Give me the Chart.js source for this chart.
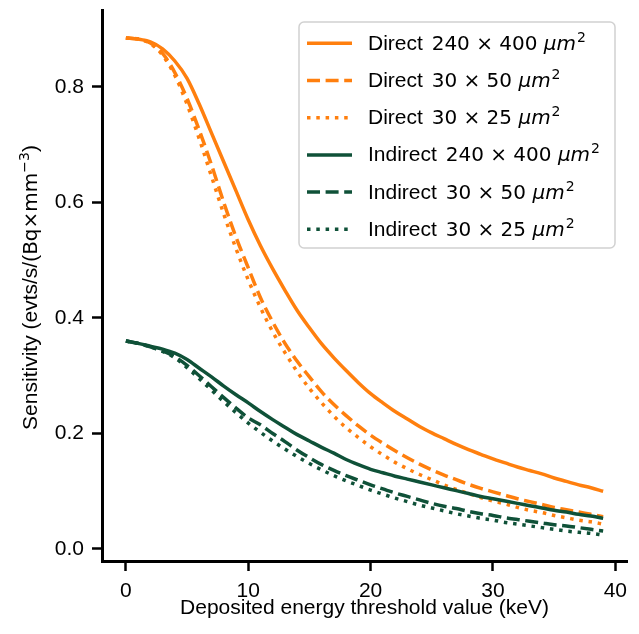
<!DOCTYPE html>
<html>
<head>
<meta charset="utf-8">
<script src="https://cdn.jsdelivr.net/npm/chart.js@4/dist/chart.umd.min.js"></script>
<style>
  html, body { margin: 0; padding: 0; background: #fff; }
  #wrap { width: 639px; height: 634px; }
</style>
</head>
<body>
<div id="wrap"><canvas id="c" width="639" height="634"></canvas></div>
<script>
// ---- data ----
const energyKeV = [0,1,2,3,4,5,6,7,8,9,10,11,12,13,14,15,16,17,18,19,20,21,22,23,24,25,26,27,28,29,30,31,32,33,34,35,36,37,38,39];

const directLarge = [0.885,0.883,0.878,0.866,0.845,0.815,0.770,0.720,0.670,0.620,0.570,0.525,0.485,0.448,0.413,0.383,0.355,0.331,0.309,0.288,0.269,0.253,0.238,0.225,0.212,0.201,0.191,0.181,0.172,0.164,0.156,0.149,0.142,0.136,0.130,0.123,0.117,0.111,0.106,0.100];
const directMid   = [0.885,0.883,0.876,0.858,0.825,0.780,0.725,0.665,0.600,0.540,0.487,0.435,0.393,0.356,0.325,0.298,0.272,0.250,0.231,0.213,0.197,0.183,0.170,0.158,0.147,0.137,0.128,0.120,0.112,0.105,0.099,0.093,0.087,0.082,0.077,0.072,0.068,0.064,0.060,0.056];
const directSmall = [0.885,0.883,0.875,0.855,0.820,0.770,0.710,0.645,0.580,0.520,0.466,0.418,0.376,0.340,0.307,0.278,0.253,0.230,0.210,0.193,0.177,0.163,0.150,0.139,0.129,0.120,0.111,0.103,0.096,0.089,0.083,0.078,0.072,0.067,0.063,0.058,0.054,0.050,0.047,0.043];

const indirectLarge = [0.360,0.356,0.351,0.346,0.339,0.328,0.313,0.298,0.282,0.267,0.253,0.238,0.224,0.211,0.198,0.187,0.176,0.166,0.155,0.146,0.138,0.132,0.126,0.121,0.116,0.111,0.106,0.101,0.096,0.091,0.087,0.083,0.079,0.075,0.071,0.067,0.064,0.060,0.057,0.053];
const indirectMid   = [0.360,0.356,0.350,0.343,0.333,0.318,0.300,0.281,0.262,0.244,0.227,0.215,0.200,0.186,0.171,0.158,0.146,0.136,0.127,0.119,0.111,0.104,0.097,0.091,0.085,0.079,0.074,0.070,0.065,0.061,0.058,0.054,0.051,0.048,0.045,0.042,0.040,0.037,0.034,0.031];
const indirectSmall = [0.360,0.356,0.350,0.342,0.331,0.314,0.295,0.275,0.255,0.236,0.218,0.202,0.187,0.173,0.160,0.148,0.137,0.127,0.118,0.110,0.102,0.095,0.088,0.082,0.076,0.071,0.066,0.061,0.057,0.053,0.050,0.046,0.043,0.040,0.037,0.034,0.031,0.029,0.027,0.024];

const readoutKinds = ['Direct','Direct','Direct','Indirect','Indirect','Indirect'];
const pixelSizes   = ['240 × 400','30 × 50','30 × 25','240 × 400','30 × 50','30 × 25'];
const xTickValues = [0,10,20,30,40];
const yTickValues = [0.0,0.2,0.4,0.6,0.8];
const xTitle = 'Deposited energy threshold value (keV)';
const yTitleParts = ['Sensitivity (evts/s/(', 'Bq×mm', '−3', ')'];

// ---- styles ----
const ORANGE = '#ff7f0e';
const GREEN = '#0f5138';
const LW = 3.5;
const DASHED = [13, 5.6];
const DOTTED = [3.5, 5.8];
const FONT = '"Liberation Sans", Arial, Helvetica, sans-serif';
const MATHFONT = '"DejaVu Sans", sans-serif';
const TXT = 21;

const seriesValues = [directLarge, directMid, directSmall, indirectLarge, indirectMid, indirectSmall];
const seriesColors = [ORANGE, ORANGE, ORANGE, GREEN, GREEN, GREEN];
const seriesDash = [[], DASHED, DOTTED, [], DASHED, DOTTED];

const datasets = seriesValues.map((vals, i) => ({
  label: readoutKinds[i] + ' ' + pixelSizes[i] + ' μm²',
  data: energyKeV.map((x, j) => ({x: x, y: vals[j]})),
  borderColor: seriesColors[i],
  backgroundColor: seriesColors[i],
  borderWidth: LW,
  borderDash: seriesDash[i],
  borderCapStyle: 'butt',
  borderJoinStyle: 'round',
  cubicInterpolationMode: 'monotone',
  pointRadius: 0,
  fill: false,
  order: 6 - i
}));

const customText = {
  id: 'customText',
  afterDraw(chart) {
    const ctx = chart.ctx;
    const area = chart.chartArea;
    ctx.save();
    // ---- y axis title with superscript ----
    const fonts = [TXT + 'px ' + FONT, '20px ' + MATHFONT, '14px ' + MATHFONT, TXT + 'px ' + FONT];
    const shifts = [0, 0, -8, 0];
    const widths = yTitleParts.map((t, k) => { ctx.font = fonts[k]; return ctx.measureText(t).width; });
    const total = widths.reduce((a, b) => a + b, 0);
    const cy = (area.top + area.bottom) / 2 + 2;
    ctx.translate(37, cy);
    ctx.rotate(-Math.PI / 2);
    ctx.fillStyle = '#000';
    ctx.textBaseline = 'alphabetic';
    ctx.textAlign = 'left';
    let tx = -total / 2;
    yTitleParts.forEach((t, k) => {
      ctx.font = fonts[k];
      ctx.fillText(t, tx, shifts[k]);
      tx += widths[k];
    });
    ctx.restore();

    // ---- legend box ----
    ctx.save();
    const bx = area.right - 328, by = area.top + 12, bw = 316, bh = 226, r = 5;
    ctx.beginPath();
    ctx.moveTo(bx + r, by);
    ctx.lineTo(bx + bw - r, by);
    ctx.arcTo(bx + bw, by, bx + bw, by + r, r);
    ctx.lineTo(bx + bw, by + bh - r);
    ctx.arcTo(bx + bw, by + bh, bx + bw - r, by + bh, r);
    ctx.lineTo(bx + r, by + bh);
    ctx.arcTo(bx, by + bh, bx, by + bh - r, r);
    ctx.lineTo(bx, by + r);
    ctx.arcTo(bx, by, bx + r, by, r);
    ctx.closePath();
    ctx.fillStyle = 'rgba(255,255,255,0.8)';
    ctx.fill();
    ctx.strokeStyle = 'rgba(204,204,204,0.9)';
    ctx.lineWidth = 1.5;
    ctx.stroke();

    chart.data.datasets.forEach((ds, i) => {
      const rowY = by + 21.3 + i * 37.2;
      ctx.beginPath();
      ctx.strokeStyle = ds.borderColor;
      ctx.lineWidth = ds.borderWidth;
      ctx.lineCap = 'butt';
      ctx.setLineDash(ds.borderDash || []);
      ctx.moveTo(bx + 8, rowY);
      ctx.lineTo(bx + 53, rowY);
      ctx.stroke();
      ctx.setLineDash([]);

      const base = rowY + 6.5;
      let x = bx + 69;
      ctx.fillStyle = '#000';
      ctx.textAlign = 'left';
      ctx.textBaseline = 'alphabetic';
      ctx.font = TXT + 'px ' + FONT;
      const pre = readoutKinds[i] + ' ';
      ctx.fillText(pre, x, base);
      x += ctx.measureText(pre).width + 3;
      ctx.font = '20px ' + MATHFONT;
      const nums = pixelSizes[i] + ' ';
      ctx.fillText(nums, x, base);
      x += ctx.measureText(nums).width;
      ctx.font = 'italic 20px ' + MATHFONT;
      ctx.fillText('μm', x, base);
      x += ctx.measureText('μm').width + 1;
      ctx.font = '14px ' + MATHFONT;
      ctx.fillText('2', x, base - 8);
    });
    ctx.restore();
  }
};

new Chart(document.getElementById('c'), {
  type: 'line',
  data: { datasets: datasets },
  options: {
    responsive: false,
    animation: false,
    devicePixelRatio: 1,
    layout: { padding: { top: 10, right: 12, left: 0, bottom: 0 } },
    plugins: { legend: { display: false }, tooltip: { enabled: false } },
    scales: {
      x: {
        type: 'linear',
        min: -1.95,
        max: 40.95,
        afterBuildTicks: s => { s.ticks = xTickValues.map(v => ({ value: v })); },
        afterFit: s => { s.height = 73; s.paddingLeft = 0; s.paddingRight = 0; },
        grid: { display: true, drawOnChartArea: false, drawTicks: true, tickLength: 10, tickWidth: 2.5, tickColor: '#000' },
        border: { display: true, color: '#000', width: 3 },
        ticks: { color: '#000', font: { family: FONT, size: TXT }, padding: 8, maxRotation: 0, autoSkip: false,
                 callback: v => String(v) },
        title: { display: true, text: xTitle, color: '#000', font: { family: FONT, size: TXT }, padding: { top: 0, bottom: 13 } }
      },
      y: {
        type: 'linear',
        min: -0.0208,
        max: 0.9333,
        afterBuildTicks: s => { s.ticks = yTickValues.map(v => ({ value: v })); },
        afterFit: s => { s.width = 102; s.paddingTop = 0; s.paddingBottom = 0; },
        grid: { display: true, drawOnChartArea: false, drawTicks: true, tickLength: 10, tickWidth: 2.5, tickColor: '#000' },
        border: { display: true, color: '#000', width: 3 },
        ticks: { color: '#000', font: { family: FONT, size: TXT }, padding: 8, autoSkip: false,
                 callback: v => Number(v).toFixed(1) },
        title: { display: false }
      }
    }
  },
  plugins: [customText]
});
</script>
</body>
</html>
